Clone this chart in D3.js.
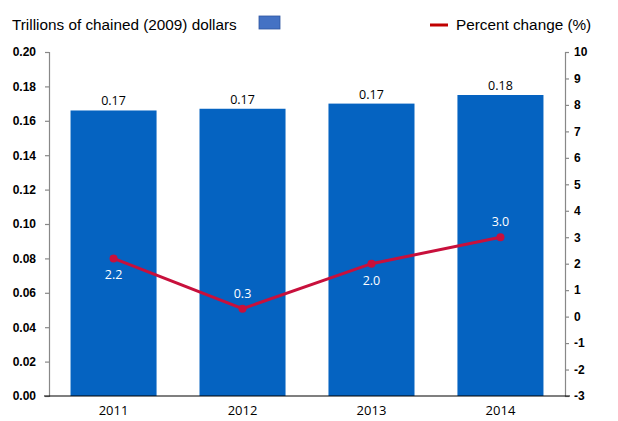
<!DOCTYPE html>
<html>
<head>
<meta charset="utf-8">
<script src="https://cdn.jsdelivr.net/npm/d3@7"></script>
<style>
  body { margin: 0; background: #fff; }
  svg { display: block; }
</style>
</head>
<body>
<svg width="618" height="421"></svg>
<script>
const years = ["2011", "2012", "2013", "2014"]
const dollars = [0.166, 0.167, 0.170, 0.175]
const dollarLabels = ["0.17", "0.17", "0.17", "0.18"]
const pctChange = [2.2, 0.3, 2.0, 3.0]
const leftTicks = [0, 0.02, 0.04, 0.06, 0.08, 0.10, 0.12, 0.14, 0.16, 0.18, 0.20]
const rightTicks = [-3, -2, -1, 0, 1, 2, 3, 4, 5, 6, 7, 8, 9, 10]

const barColour = "#0563c1"
const lineColour = "#c8103c"

const svg = d3.select("svg")
const plotLeft = 49, plotRight = 565, plotTop = 52, plotBottom = 396

const x = d3.scaleBand().domain(years).range([plotLeft, plotRight]).paddingInner(0.333).paddingOuter(0.167)
const y = d3.scaleLinear().domain([0, 0.2]).range([plotBottom, plotTop])
const y2 = d3.scaleLinear().domain([-3, 10]).range([plotBottom, plotTop])

// bars
svg.append("g")
  .selectAll("rect")
  .data(years)
  .enter().append("rect")
  .attr("x", d => x(d))
  .attr("width", x.bandwidth())
  .attr("y", (d, i) => y(dollars[i]))
  .attr("height", (d, i) => plotBottom - y(dollars[i]))
  .attr("fill", barColour)

svg.append("g")
  .selectAll("text")
  .data(years)
  .enter().append("text")
  .attr("x", d => x(d) + x.bandwidth() / 2)
  .attr("y", (d, i) => y(dollars[i]) - 5)
  .attr("text-anchor", "middle")
  .attr("font-family", "Open Sans, sans-serif")
  .attr("font-size", 12.5)
  .attr("fill", "#000")
  .text((d, i) => dollarLabels[i])

// left axis
const yAxis = svg.append("g")
  .attr("transform", `translate(${plotLeft},0)`)
  .call(d3.axisLeft(y).tickValues(leftTicks).tickFormat(d3.format(".2f")).tickSize(4).tickPadding(9))
yAxis.selectAll("path, line").attr("stroke", "#888").attr("stroke-width", 1.2)
yAxis.selectAll("text")
  .attr("font-family", "Liberation Sans, Arial, sans-serif")
  .attr("font-weight", "bold")
  .attr("font-size", 12)
  .attr("fill", "#000")

// right axis (plain hyphen for negatives, like the original)
const y2Axis = svg.append("g")
  .attr("transform", `translate(${plotRight},0)`)
  .call(d3.axisRight(y2).tickValues(rightTicks).tickFormat(d => String(d)).tickSize(4).tickPadding(5))
y2Axis.selectAll("path, line").attr("stroke", "#888").attr("stroke-width", 1.2)
y2Axis.selectAll("text")
  .attr("font-family", "Liberation Sans, Arial, sans-serif")
  .attr("font-weight", "bold")
  .attr("font-size", 12)
  .attr("fill", "#000")

// baseline + category labels
svg.append("line")
  .attr("x1", 44).attr("x2", 570)
  .attr("y1", plotBottom).attr("y2", plotBottom)
  .attr("stroke", "#000").attr("stroke-width", 1.2)

svg.append("g")
  .selectAll("text")
  .data(years)
  .enter().append("text")
  .attr("x", d => x(d) + x.bandwidth() / 2)
  .attr("y", plotBottom + 19)
  .attr("text-anchor", "middle")
  .attr("font-family", "Open Sans, sans-serif")
  .attr("font-size", 13)
  .attr("fill", "#000")
  .text(d => d)

// percent change line
const cx = d => x(d) + x.bandwidth() / 2
const line = d3.line()
  .x(d => cx(d))
  .y((d, i) => y2(pctChange[i]))

svg.append("path")
  .datum(years)
  .attr("d", line)
  .attr("fill", "none")
  .attr("stroke", lineColour)
  .attr("stroke-width", 3)

svg.append("g")
  .selectAll("circle")
  .data(years)
  .enter().append("circle")
  .attr("cx", d => cx(d))
  .attr("cy", (d, i) => y2(pctChange[i]))
  .attr("r", 4)
  .attr("fill", lineColour)

// labels below for 2011/2013, above for 2012/2014
const labelBelow = [true, false, true, false]
svg.append("g")
  .selectAll("text")
  .data(years)
  .enter().append("text")
  .attr("x", d => cx(d))
  .attr("y", (d, i) => y2(pctChange[i]) + (labelBelow[i] ? 21 : -11))
  .attr("text-anchor", "middle")
  .attr("font-family", "Open Sans, sans-serif")
  .attr("font-size", 12.5)
  .attr("fill", "#fff")
  .text((d, i) => d3.format(".1f")(pctChange[i]))

// legend
svg.append("text")
  .attr("x", 12).attr("y", 30)
  .attr("font-family", "Liberation Sans, Arial, sans-serif")
  .attr("font-size", 15.3)
  .attr("fill", "#000")
  .text("Trillions of chained (2009) dollars")

svg.append("rect")
  .attr("x", 259).attr("y", 16)
  .attr("width", 21).attr("height", 13)
  .attr("fill", "#4472c4")
  .attr("stroke", "#2f55a0")
  .attr("stroke-width", 0.8)

svg.append("line")
  .attr("x1", 430).attr("x2", 448)
  .attr("y1", 25).attr("y2", 25)
  .attr("stroke", "#c00000")
  .attr("stroke-width", 3)

svg.append("text")
  .attr("x", 456).attr("y", 30)
  .attr("font-family", "Liberation Sans, Arial, sans-serif")
  .attr("font-size", 15.3)
  .attr("fill", "#000")
  .text("Percent change (%)")
</script>
</body>
</html>
